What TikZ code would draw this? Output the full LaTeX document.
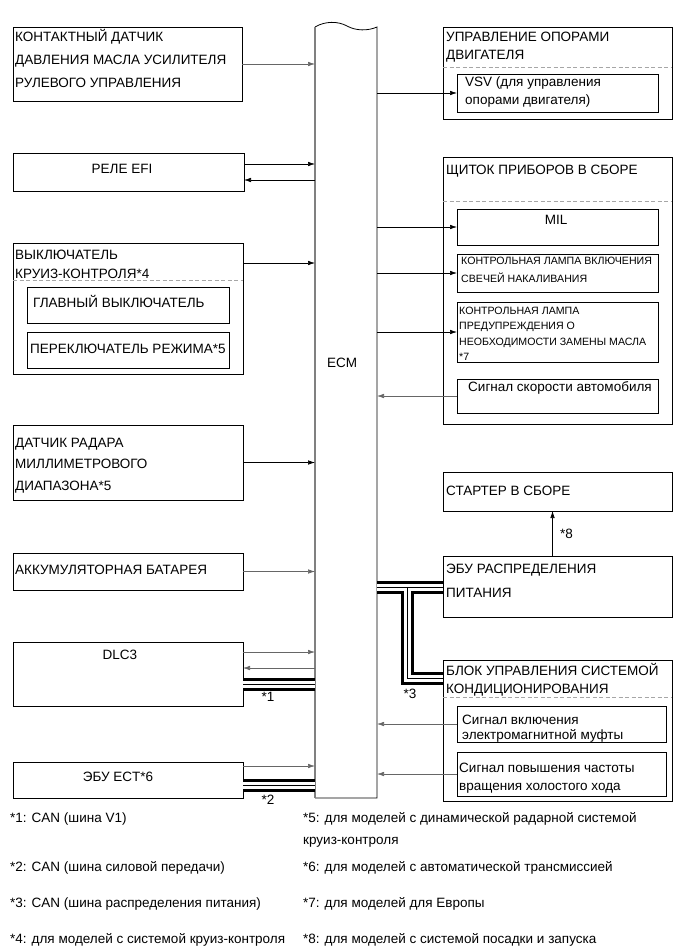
\documentclass[tikz,border=0pt]{standalone}
\usepackage{fontspec}
\setmainfont{Liberation Sans}
\usetikzlibrary{arrows.meta,positioning,calc}

\begin{document}
\begin{tikzpicture}[
  x=1pt, y=-1pt,
  box/.style={draw, line width=0.8pt, anchor=north west, inner sep=0pt, outer sep=0pt},
  sig/.style={-{Latex[length=7pt,width=4.5pt]}, line width=0.6pt},
  sigg/.style={sig, black!60},
  sep/.style={line width=0.6pt, black!35, dash pattern=on 4pt off 2.5pt},
  lbl/.style={anchor=base west, inner sep=0pt, font=\fontsize{13.5}{15}\selectfont},
  sml/.style={anchor=base west, inner sep=0pt, font=\fontsize{10.6}{13}\selectfont},
  mid/.style={anchor=base, inner sep=0pt, font=\fontsize{13.5}{15}\selectfont}]

\useasboundingbox (0,0) rectangle (690,952);

% ---- the ECM, with its torn top edge -------------------------------------
\node[box, draw=none, minimum width=62, minimum height=771] (ecm) at (315,27) {};
\draw[line width=0.8pt] (ecm.north west)
     .. controls (325,21) and (338,21) .. (347,26)
     .. controls (356,31) and (368,31) .. (ecm.north east) -- (ecm.south east) -- (ecm.south west);
\draw[line width=1.3pt, black!50] (ecm.south west) -- (ecm.north west);
\node[mid] (ecm-t) at (342,367) {ECM};

% ---- inputs on the left --------------------------------------------------
\node[box, minimum width=229, minimum height=74]  (pscs)   at (13,27)  {};
\node[box, minimum width=231, minimum height=38]  (efi)    at (13,153) {};
\node[box, minimum width=230, minimum height=131] (ccs)    at (13,243) {};
\node[box, minimum width=202, minimum height=36]  (mainsw) at (27,287) {};
\node[box, minimum width=202, minimum height=36]  (modesw) at (27,332) {};
\node[box, minimum width=230, minimum height=75]  (radar)  at (13,425) {};
\node[box, minimum width=230, minimum height=37]  (batt)   at (13,553) {};
\node[box, minimum width=230, minimum height=64]  (dlc)    at (13,642) {};
\node[box, minimum width=230, minimum height=36]  (ect)    at (13,762) {};
\draw[sep] (ccs.west |- 0,280) -- (ccs.east |- 0,280);

\foreach \t [count=\i from 0] in {КОНТАКТНЫЙ ДАТЧИК, ДАВЛЕНИЯ МАСЛА УСИЛИТЕЛЯ, РУЛЕВОГО УПРАВЛЕНИЯ}
  \node[lbl] (pscs-\i) at (15,42+23*\i) {\t};
\node[mid] (efi-t) at (122,174) {РЕЛЕ EFI};
\foreach \t [count=\i from 0] in {ВЫКЛЮЧАТЕЛЬ, КРУИЗ-КОНТРОЛЯ*4}
  \node[lbl] (ccs-\i) at (15,259+19*\i) {\t};
\node[lbl] (mainsw-t) at (33,307) {ГЛАВНЫЙ ВЫКЛЮЧАТЕЛЬ};
\node[lbl] (modesw-t) at (30,353) {ПЕРЕКЛЮЧАТЕЛЬ РЕЖИМА*5};
\foreach \t [count=\i from 0] in {ДАТЧИК РАДАРА, МИЛЛИМЕТРОВОГО, ДИАПАЗОНА*5}
  \node[lbl] (radar-\i) at (15,447+21.5*\i) {\t};
\node[lbl] (batt-t) at (15,574) {АККУМУЛЯТОРНАЯ БАТАРЕЯ};
\node[mid] (dlc-t) at (120,659) {DLC3};
\node[mid] (ect-t) at (118,781) {ЭБУ ECT*6};

% ---- outputs and partners on the right -----------------------------------
\node[box, minimum width=229, minimum height=92]  (mount)   at (443,27)  {};
\node[box, minimum width=201, minimum height=38]  (vsv)     at (457,74)  {};
\node[box, minimum width=229, minimum height=267] (meter)   at (443,157) {};
\node[box, minimum width=201, minimum height=36]  (mil)     at (457,209) {};
\node[box, minimum width=201, minimum height=38]  (glow)    at (457,254) {};
\node[box, minimum width=201, minimum height=60]  (oil)     at (457,302) {};
\node[box, minimum width=201, minimum height=34]  (spd)     at (457,379) {};
\node[box, minimum width=229, minimum height=39]  (starter) at (443,472) {};
\node[box, minimum width=229, minimum height=61]  (pwr)     at (443,556) {};
\node[box, minimum width=229, minimum height=141] (ac)      at (443,660) {};
\node[box, minimum width=209, minimum height=36]  (mgc)     at (457,706) {};
\node[box, minimum width=209, minimum height=44]  (idle)    at (457,752) {};
\draw[sep] (mount.west |- 0,67)  -- (mount.east |- 0,67);
\draw[sep] (meter.west |- 0,201) -- (meter.east |- 0,201);
\draw[sep] (ac.west |- 0,697)    -- (ac.east |- 0,697);

\foreach \t [count=\i from 0] in {УПРАВЛЕНИЕ ОПОРАМИ, ДВИГАТЕЛЯ}
  \node[lbl] (mount-\i) at (446,42+18*\i) {\t};
\foreach \t [count=\i from 0] in {VSV (для управления, опорами двигателя)}
  \node[lbl] (vsv-\i) at (465,87+18*\i) {\t};
\node[lbl] (meter-t) at (446,175) {ЩИТОК ПРИБОРОВ В СБОРЕ};
\node[mid] (mil-t) at (556,224) {MIL};
\foreach \t [count=\i from 0] in {КОНТРОЛЬНАЯ ЛАМПА ВКЛЮЧЕНИЯ, СВЕЧЕЙ НАКАЛИВАНИЯ}
  \node[sml] (glow-\i) at (461,264+18*\i) {\t};
\foreach \t [count=\i from 0] in {КОНТРОЛЬНАЯ ЛАМПА, ПРЕДУПРЕЖДЕНИЯ О, НЕОБХОДИМОСТИ ЗАМЕНЫ МАСЛА, *7}
  \node[sml] (oil-\i) at (459,314+15.5*\i) {\t};
\node[lbl] (spd-t) at (468,391) {Сигнал скорости автомобиля};
\node[lbl] (starter-t) at (446,495) {СТАРТЕР В СБОРЕ};
\foreach \t [count=\i from 0] in {ЭБУ РАСПРЕДЕЛЕНИЯ, ПИТАНИЯ}
  \node[lbl] (pwr-\i) at (446,573+24*\i) {\t};
\foreach \t [count=\i from 0] in {БЛОК УПРАВЛЕНИЯ СИСТЕМОЙ, КОНДИЦИОНИРОВАНИЯ}
  \node[lbl] (ac-\i) at (446,675+18*\i) {\t};
\foreach \t [count=\i from 0] in {Сигнал включения, электромагнитной муфты}
  \node[lbl] (mgc-\i) at (462,724+15*\i) {\t};
\foreach \t [count=\i from 0] in {Сигнал повышения частоты, вращения холостого хода}
  \node[lbl] (idle-\i) at (459,772+18*\i) {\t};

% ---- signal lines ---------------------------------------------------------
\draw[sigg] (pscs.east) -- (pscs.east -| ecm.west);
\draw[sig] ([yshift=8]efi.east) -- ([yshift=8]efi.east -| ecm.west);
\draw[sig] ([yshift=-8]efi.east -| ecm.west) -- ([yshift=-8]efi.east);
\draw[sig] (ccs.east |- 0,263) -- (ecm.west |- 0,263);
\draw[sig] (radar.east) -- (radar.east -| ecm.west);
\draw[sigg] (batt.east) -- (batt.east -| ecm.west);
\draw[sigg] (dlc.east |- 0,652) -- (ecm.west |- 0,652);
\draw[sigg] (ecm.west |- 0,668) -- (dlc.east |- 0,668);
\draw[sigg] (ect.east |- 0,766) -- (ecm.west |- 0,766);

\draw[sig] (vsv.west -| ecm.east) -- (vsv.west);
\draw[sig] (mil.west -| ecm.east) -- (mil.west);
\draw[sig] (glow.west -| ecm.east) -- (glow.west);
\draw[sig] (oil.west -| ecm.east) -- (oil.west);
\draw[sigg] (spd.west) -- (spd.west -| ecm.east);
\draw[sigg] (mgc.west) -- (mgc.west -| ecm.east);
\draw[sigg] (idle.west) -- (idle.west -| ecm.east);
\draw[sig] ([xshift=-5]pwr.north) -- ([xshift=-5]pwr.north |- starter.south);
\node[lbl] (note8) at (560,538) {*8};

% ---- CAN buses: black band, white core, thin centre line -----------------
\foreach \w/\c in {13/black, 7/white, 0.7/black}{
  \draw[line width=\w pt, \c] (dlc.east |- 0,684) -- (ecm.west |- 0,684);
  \draw[line width=\w pt, \c] (ect.east |- 0,785) -- (ecm.west |- 0,785);
  \draw[line width=\w pt, \c] (ecm.east |- 0,587) -- (pwr.west |- 0,587)
        (407,587) -- (407,678) -- (ac.west |- 0,678);
}
\node[mid] (note1) at (268,701) {*1};
\node[mid] (note2) at (268,804) {*2};
\node[mid] (note3) at (410,698) {*3};

% ---- footnotes -------------------------------------------------------------
\node[lbl] (fn1) at (10,822) {*1: CAN (шина V1)};
\node[lbl] (fn2) at (10,871) {*2: CAN (шина силовой передачи)};
\node[lbl] (fn3) at (10,907) {*3: CAN (шина распределения питания)};
\node[lbl] (fn4) at (10,943) {*4: для моделей с системой круиз-контроля};
\node[lbl] (fn5) at (303,822) {*5: для моделей с динамической радарной системой};
\node[lbl] (fn5b) at (303,844) {круиз-контроля};
\node[lbl] (fn6) at (303,871) {*6: для моделей с автоматической трансмиссией};
\node[lbl] (fn7) at (303,907) {*7: для моделей для Европы};
\node[lbl] (fn8) at (303,943) {*8: для моделей с системой посадки и запуска};

\end{tikzpicture}
\end{document}
